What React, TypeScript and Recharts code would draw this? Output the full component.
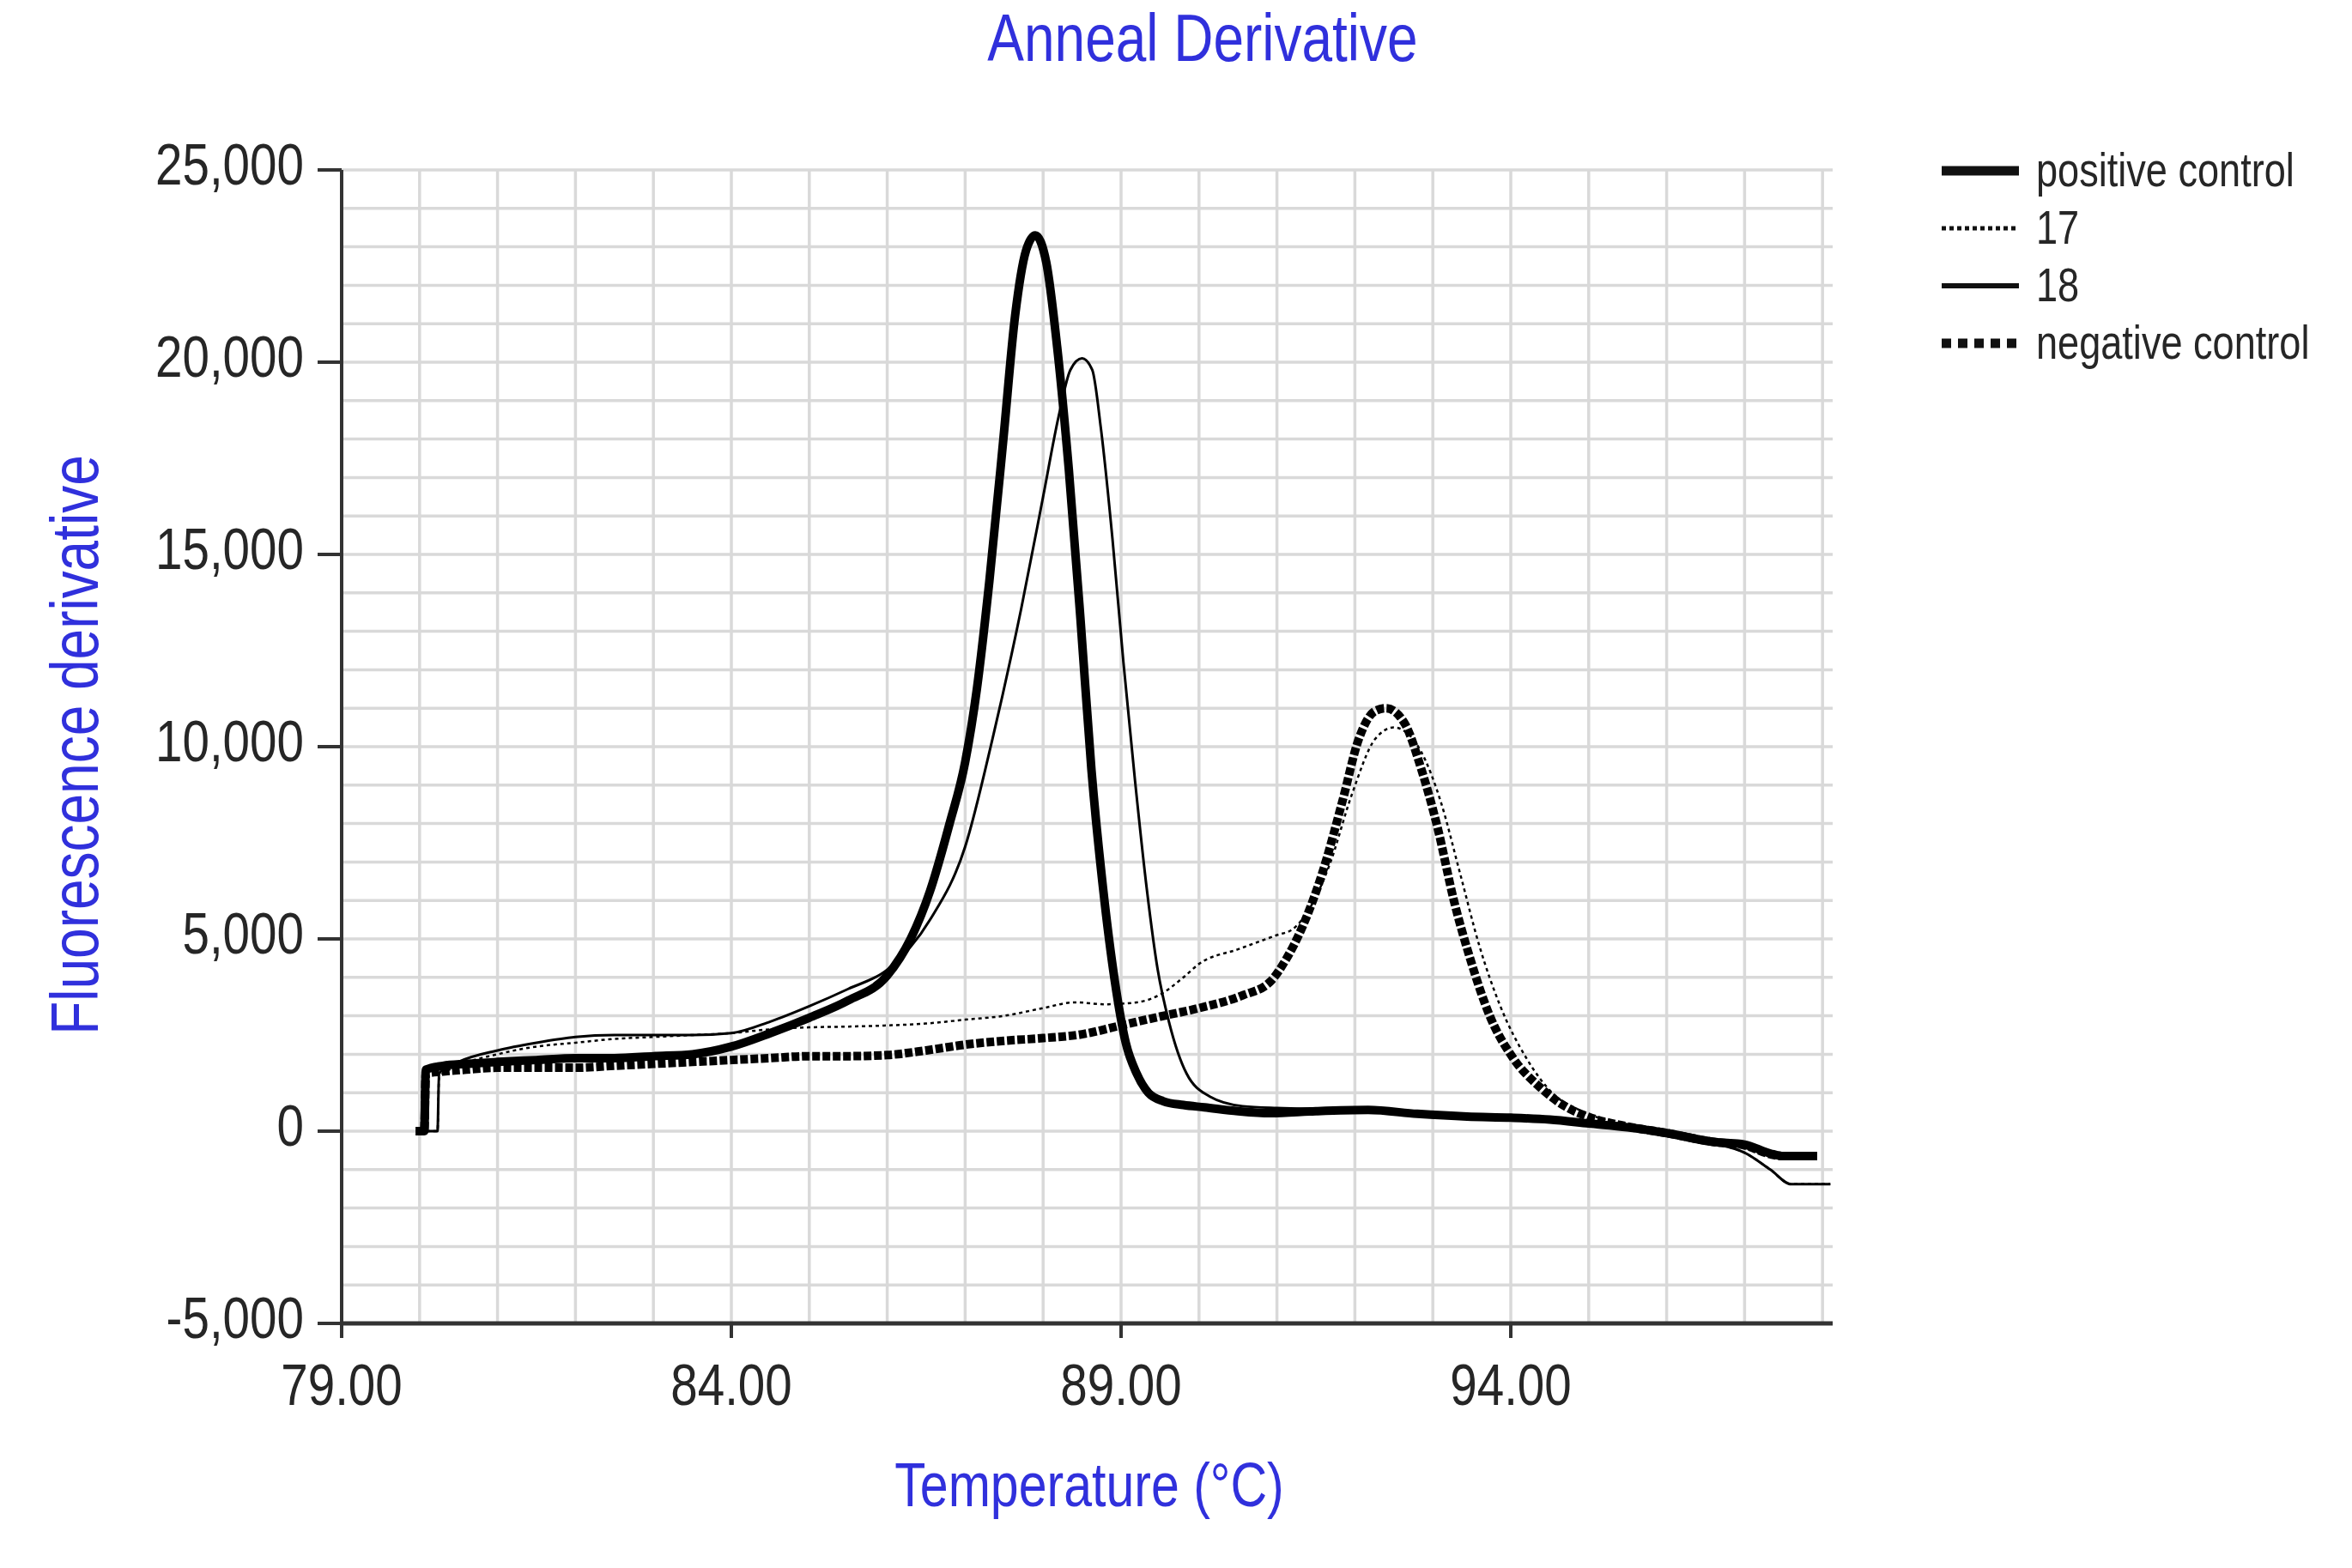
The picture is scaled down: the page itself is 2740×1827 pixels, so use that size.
import { LineChart, Line, XAxis, YAxis, CartesianGrid } from "recharts";

// temperature (°C) and fluorescence derivative
const posTemp = [79.95, 80.06, 80.08, 80.3, 80.6, 81, 81.5, 82, 82.5, 83, 83.5, 84, 84.5, 85, 85.5, 86, 86.3, 86.55, 86.8, 87.0, 87.15, 87.31, 87.49, 87.64, 87.78, 87.9, 88.04, 88.18, 88.33, 88.48, 88.62, 88.77, 88.92, 89.06, 89.2, 89.35, 89.54, 89.8, 90.07, 90.5, 90.91, 91.5, 92.17, 92.8, 93.44, 94, 94.5, 95, 95.5, 96, 96.6, 97, 97.33, 97.5, 97.93];
const posValue = [0, 0, 1600, 1700, 1750, 1800, 1850, 1900, 1900, 1950, 2000, 2200, 2550, 2950, 3400, 4050, 5000, 6250, 8000, 9600, 11500, 14300, 18000, 21200, 22900, 23300, 22600, 20400, 17200, 13300, 9400, 6300, 3900, 2300, 1500, 1000, 780, 680, 620, 520, 470, 520, 550, 450, 380, 350, 300, 200, 100, -50, -280, -350, -580, -650, -650];

const s17Temp = [80.0, 80.23, 80.25, 80.5, 81, 81.5, 82, 82.5, 83, 83.5, 84, 84.5, 85, 85.5, 86, 86.5, 87, 87.5, 88, 88.4, 88.8, 89.2, 89.5, 89.8, 90, 90.5, 91, 91.2, 91.45, 91.67, 91.96, 92.26, 92.5, 92.7, 92.85, 93.1, 93.35, 93.6, 93.86, 94.2, 94.54, 94.88, 95.2, 95.6, 96, 96.6, 97, 97.33, 97.6, 98.1];
const s17Value = [0, 0, 1400, 1700, 2000, 2200, 2300, 2400, 2450, 2500, 2550, 2650, 2700, 2720, 2750, 2800, 2900, 3000, 3200, 3350, 3300, 3350, 3550, 4000, 4350, 4730, 5100, 5250, 5900, 6900, 8750, 10200, 10500, 10300, 9870, 8580, 6700, 4800, 3280, 1900, 980, 550, 300, 100, -100, -320, -560, -1000, -1380, -1380];

const s18Temp = [80.0, 80.23, 80.25, 80.5, 81, 81.5, 82, 82.5, 83, 83.5, 84, 84.5, 85, 85.5, 86, 86.55, 87.0, 87.35, 87.72, 88.0, 88.2, 88.35, 88.5, 88.63, 88.74, 88.89, 89.03, 89.18, 89.33, 89.47, 89.62, 89.84, 90.14, 90.56, 91, 92, 93, 94, 95, 95.5, 96, 96.6, 97, 97.33, 97.6, 98.1];
const s18Value = [0, 0, 1500, 1800, 2100, 2300, 2450, 2500, 2500, 2500, 2550, 2850, 3250, 3700, 4200, 5500, 7400, 10200, 13600, 16500, 18600, 19800, 20100, 19800, 18300, 15400, 12200, 9100, 6300, 4200, 2800, 1500, 900, 650, 600, 560, 470, 370, 170, 50, -100, -320, -560, -1000, -1380, -1380];

const negTemp = [79.95, 80.06, 80.08, 80.3, 80.6, 81, 81.5, 82, 82.5, 83, 83.5, 84, 84.5, 85, 85.5, 86, 86.5, 87, 87.5, 88, 88.5, 89, 89.5, 90, 90.57, 90.91, 91.12, 91.33, 91.58, 91.84, 92.05, 92.26, 92.4, 92.64, 92.85, 93.06, 93.27, 93.48, 93.73, 94.03, 94.37, 94.71, 95.0, 95.5, 96, 96.6, 97, 97.33, 97.5, 97.93];
const negValue = [0, 0, 1500, 1550, 1600, 1650, 1650, 1650, 1700, 1750, 1800, 1850, 1900, 1950, 1950, 1980, 2100, 2250, 2350, 2420, 2520, 2750, 2980, 3200, 3540, 3880, 4480, 5330, 6700, 8580, 10200, 10930, 11000, 10600, 9430, 7900, 6000, 4480, 3000, 1900, 1150, 630, 370, 120, -50, -280, -370, -600, -650, -650];

const xTicks = [79, 84, 89, 94];
const yTicks = [-5000, 0, 5000, 10000, 15000, 20000, 25000];
const gridTemps = [80, 81, 82, 83, 84, 85, 86, 87, 88, 89, 90, 91, 92, 93, 94, 95, 96, 97, 98];
const gridValues = [-5000, -4000, -3000, -2000, -1000, 0, 1000, 2000, 3000, 4000, 5000, 6000, 7000, 8000, 9000, 10000, 11000, 12000, 13000, 14000, 15000, 16000, 17000, 18000, 19000, 20000, 21000, 22000, 23000, 24000, 25000];

const toRows = (t: number[], v: number[]) => t.map((temp, i) => ({ temp, value: v[i] }));

const FONT = "'Liberation Sans', Arial, sans-serif";
const NARROW = 0.82; // the reference uses a condensed face
const BLUE = "#3030dc";
const INK = "#262626";

const SERIES = [
  { name: "positive control", data: toRows(posTemp, posValue), width: 10, dash: undefined, legendWidth: 11, legendDash: undefined },
  { name: "17", data: toRows(s17Temp, s17Value), width: 2.5, dash: "4 4", legendWidth: 5, legendDash: "5 4" },
  { name: "18", data: toRows(s18Temp, s18Value), width: 3, dash: undefined, legendWidth: 6, legendDash: undefined },
  { name: "negative control", data: toRows(negTemp, negValue), width: 10, dash: "9 3", legendWidth: 11, legendDash: "11 8" },
];

const fmtY = (v: number) => v.toLocaleString("en-US");

function YTick({ x, y, payload }: any) {
  return (
    <text transform={`translate(${x},${y + 17}) scale(${NARROW},1)`} textAnchor="end" fontFamily={FONT} fontSize={69} fill={INK}>
      {fmtY(payload.value)}
    </text>
  );
}

function XTick({ x, y, payload }: any) {
  return (
    <text transform={`translate(${x},${y + 70}) scale(${NARROW},1)`} textAnchor="middle" fontFamily={FONT} fontSize={69} fill={INK}>
      {Number(payload.value).toFixed(2)}
    </text>
  );
}

const labelStyle = (left: number, top: number, size: number, rotate = 0): React.CSSProperties => ({
  position: "absolute",
  left,
  top,
  transform: `translate(-50%,-50%) rotate(${rotate}deg) scale(${NARROW},1)`,
  fontFamily: FONT,
  fontSize: size,
  color: BLUE,
  whiteSpace: "nowrap",
  lineHeight: 1,
});

function LegendBox() {
  return (
    <div style={{ position: "absolute", left: 2258, top: 165, fontFamily: FONT, fontSize: 55, color: INK }}>
      {SERIES.map((s) => (
        <div key={s.name} style={{ display: "flex", alignItems: "center", height: 67, whiteSpace: "nowrap" }}>
          <svg width={100} height={20} style={{ marginRight: 14 }}>
            <line x1={4} y1={10} x2={94} y2={10} stroke="#111" strokeWidth={s.legendWidth} strokeDasharray={s.legendDash} />
          </svg>
          <span style={{ lineHeight: 1, display: "inline-block", transform: `scale(${NARROW},1)`, transformOrigin: "left center" }}>{s.name}</span>
        </div>
      ))}
    </div>
  );
}

export default function App() {
  return (
    <div style={{ position: "relative", width: 2740, height: 1827, background: "#fff" }}>
      <style>{"body{margin:0}"}</style>
      <div style={labelStyle(1401, 44, 78)}>Anneal Derivative</div>
      <div style={labelStyle(87, 868, 78, -90)}>Fluorescence derivative</div>
      <div style={labelStyle(1269, 1730, 72)}>Temperature (°C)</div>
      <LegendBox />
      <LineChart width={2740} height={1827} margin={{ top: 198, right: 605, bottom: 135, left: 0 }}>
        <CartesianGrid
          stroke="#d9d9d9"
          strokeWidth={3.5}
          horizontalValues={gridValues}
          verticalValues={gridTemps}
        />
        <XAxis
          type="number"
          dataKey="temp"
          domain={[79, 98.13]}
          ticks={xTicks}
          allowDataOverflow
          height={150}
          stroke="#333"
          strokeWidth={5}
          tickSize={17}
          tickMargin={8}
          tickLine={{ stroke: "#333", strokeWidth: 4 }}
          tick={<XTick />}
        />
        <YAxis
          type="number"
          domain={[-5000, 25000]}
          ticks={yTicks}
          allowDataOverflow
          width={398}
          stroke="#333"
          strokeWidth={4}
          tickSize={28}
          tickMargin={16}
          tickLine={{ stroke: "#333", strokeWidth: 4 }}
          tick={<YTick />}
        />
        {SERIES.map((s) => (
          <Line
            key={s.name}
            name={s.name}
            data={s.data}
            dataKey="value"
            type="monotone"
            stroke="#000"
            strokeWidth={s.width}
            strokeDasharray={s.dash}
            dot={false}
            activeDot={false}
            isAnimationActive={false}
          />
        ))}
      </LineChart>
    </div>
  );
}
